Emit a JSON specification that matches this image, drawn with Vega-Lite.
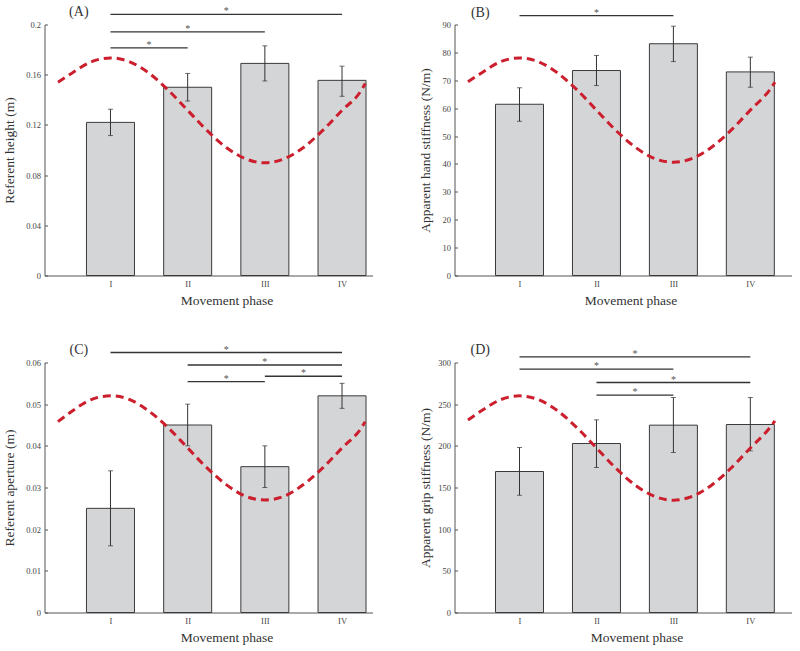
{
  "$schema": "https://vega.github.io/schema/vega-lite/v6.json",
  "padding": {"left": 2.5, "top": 4.5, "right": 5, "bottom": 2},
  "background": "white",
  "datasets": {
    "aBars": [{"x": 1, "m": 0.122, "lo": 0.1115, "hi": 0.1325}, {"x": 2, "m": 0.150, "lo": 0.139, "hi": 0.161}, {"x": 3, "m": 0.169, "lo": 0.155, "hi": 0.183}, {"x": 4, "m": 0.1555, "lo": 0.1428, "hi": 0.1668}],
    "aSig": [{"x": 1, "x2": 4, "y": 0.208, "sx": 2.5}, {"x": 1, "x2": 3, "y": 0.1942, "sx": 2}, {"x": 1, "x2": 2, "y": 0.1814, "sx": 1.5}],
    "aCurve": [{"x": 0.32, "v": 0.154}, {"x": 0.5, "v": 0.1612}, {"x": 0.75, "v": 0.1702}, {"x": 1, "v": 0.1734}, {"x": 1.25, "v": 0.1702}, {"x": 1.5, "v": 0.1612}, {"x": 1.75, "v": 0.1476}, {"x": 2, "v": 0.1316}, {"x": 2.25, "v": 0.1156}, {"x": 2.5, "v": 0.102}, {"x": 2.75, "v": 0.093}, {"x": 3, "v": 0.0898}, {"x": 3.25, "v": 0.093}, {"x": 3.5, "v": 0.102}, {"x": 3.75, "v": 0.1156}, {"x": 4, "v": 0.1316}, {"x": 4.25, "v": 0.1476}, {"x": 4.3, "v": 0.153}],
    "bBars": [{"x": 1, "m": 61.4, "lo": 55.3, "hi": 67.3}, {"x": 2, "m": 73.5, "lo": 68.1, "hi": 78.9}, {"x": 3, "m": 83.1, "lo": 76.7, "hi": 89.4}, {"x": 4, "m": 73.0, "lo": 67.5, "hi": 78.3}],
    "bSig": [{"x": 1, "x2": 3, "y": 93.2, "sx": 2}],
    "bCurve": [{"x": 0.33, "v": 69.5}, {"x": 0.5, "v": 72.5}, {"x": 0.75, "v": 76.6}, {"x": 1, "v": 78.0}, {"x": 1.25, "v": 76.6}, {"x": 1.5, "v": 72.5}, {"x": 1.75, "v": 66.5}, {"x": 2, "v": 59.3}, {"x": 2.25, "v": 52.1}, {"x": 2.5, "v": 46.1}, {"x": 2.75, "v": 42.0}, {"x": 3, "v": 40.6}, {"x": 3.25, "v": 42.0}, {"x": 3.5, "v": 46.1}, {"x": 3.75, "v": 52.1}, {"x": 4, "v": 59.3}, {"x": 4.25, "v": 66.5}, {"x": 4.32, "v": 69.3}],
    "cBars": [{"x": 1, "m": 0.025, "lo": 0.016, "hi": 0.034}, {"x": 2, "m": 0.045, "lo": 0.040, "hi": 0.050}, {"x": 3, "m": 0.035, "lo": 0.030, "hi": 0.040}, {"x": 4, "m": 0.052, "lo": 0.049, "hi": 0.055}],
    "cSig": [{"x": 1, "x2": 4, "y": 0.0624, "sx": 2.5}, {"x": 2, "x2": 4, "y": 0.0594, "sx": 3}, {"x": 3, "x2": 4, "y": 0.0567, "sx": 3.5}, {"x": 2, "x2": 3, "y": 0.0554, "sx": 2.5}],
    "cCurve": [{"x": 0.32, "v": 0.0458}, {"x": 0.5, "v": 0.0483}, {"x": 0.75, "v": 0.0511}, {"x": 1, "v": 0.052}, {"x": 1.25, "v": 0.0511}, {"x": 1.5, "v": 0.0483}, {"x": 1.75, "v": 0.0443}, {"x": 2, "v": 0.0395}, {"x": 2.25, "v": 0.0347}, {"x": 2.5, "v": 0.0307}, {"x": 2.75, "v": 0.0279}, {"x": 3, "v": 0.027}, {"x": 3.25, "v": 0.0279}, {"x": 3.5, "v": 0.0307}, {"x": 3.75, "v": 0.0347}, {"x": 4, "v": 0.0395}, {"x": 4.25, "v": 0.0443}, {"x": 4.3, "v": 0.0458}],
    "dBars": [{"x": 1, "m": 169.2, "lo": 140.8, "hi": 198}, {"x": 2, "m": 202.8, "lo": 174, "hi": 231.2}, {"x": 3, "m": 224.8, "lo": 192, "hi": 258}, {"x": 4, "m": 225.6, "lo": 194, "hi": 258}],
    "dSig": [{"x": 1, "x2": 4, "y": 306.8, "sx": 2.5}, {"x": 1, "x2": 3, "y": 292, "sx": 2}, {"x": 2, "x2": 4, "y": 276, "sx": 3}, {"x": 2, "x2": 3, "y": 260.8, "sx": 2.5}],
    "dCurve": [{"x": 0.33, "v": 231}, {"x": 0.5, "v": 241.7}, {"x": 0.75, "v": 255.2}, {"x": 1, "v": 260}, {"x": 1.25, "v": 255.2}, {"x": 1.5, "v": 241.7}, {"x": 1.75, "v": 221.4}, {"x": 2, "v": 197.4}, {"x": 2.25, "v": 173.4}, {"x": 2.5, "v": 153.1}, {"x": 2.75, "v": 139.6}, {"x": 3, "v": 134.8}, {"x": 3.25, "v": 139.6}, {"x": 3.5, "v": 153.1}, {"x": 3.75, "v": 173.4}, {"x": 4, "v": 197.4}, {"x": 4.25, "v": 221.4}, {"x": 4.32, "v": 230}]
  },
  "vconcat": [
    {
      "spacing": 45,
      "hconcat": [
        {
          "width": 328, "height": 251,
          "layer": [
            {"data": {"name": "aBars"}, "mark": {"type": "bar", "size": 48, "orient": "vertical", "fill": "#d4d5d7", "stroke": "#3a3a3a", "strokeWidth": 1},
             "encoding": {
               "x": {"field": "x", "type": "quantitative", "title": "Movement phase", "scale": {"domain": [0.21, 4.33], "nice": false, "zero": false}, "axis": {"values": [1, 2, 3, 4], "labelExpr": "['I','II','III','IV'][datum.value-1]", "titleX": 182, "titleY": 17.5, "labelOverlap": false}},
               "y": {"field": "m", "type": "quantitative", "title": "Referent height (m)", "scale": {"domain": [0, 0.2], "nice": false}, "axis": {"values": [0, 0.04, 0.08, 0.12, 0.16, 0.2], "format": "~g", "titleX": -28, "labelOverlap": false}}}},
            {"data": {"name": "aBars"}, "mark": {"type": "rule", "color": "#333", "strokeWidth": 1},
             "encoding": {"x": {"field": "x", "type": "quantitative", "title": "Movement phase", "axis": {"values": [1, 2, 3, 4], "labelExpr": "['I','II','III','IV'][datum.value-1]", "titleX": 182, "titleY": 17.5, "labelOverlap": false}}, "y": {"field": "lo", "type": "quantitative", "title": "Referent height (m)", "axis": {"values": [0, 0.04, 0.08, 0.12, 0.16, 0.2], "format": "~g", "titleX": -28, "labelOverlap": false}}, "y2": {"field": "hi"}}},
            {"data": {"name": "aBars"}, "mark": {"type": "tick", "orient": "horizontal", "size": 5, "thickness": 1, "color": "#333"},
             "encoding": {"x": {"field": "x", "type": "quantitative", "title": "Movement phase", "axis": {"values": [1, 2, 3, 4], "labelExpr": "['I','II','III','IV'][datum.value-1]", "titleX": 182, "titleY": 17.5, "labelOverlap": false}}, "y": {"field": "lo", "type": "quantitative", "title": "Referent height (m)", "axis": {"values": [0, 0.04, 0.08, 0.12, 0.16, 0.2], "format": "~g", "titleX": -28, "labelOverlap": false}}}},
            {"data": {"name": "aBars"}, "mark": {"type": "tick", "orient": "horizontal", "size": 5, "thickness": 1, "color": "#333"},
             "encoding": {"x": {"field": "x", "type": "quantitative", "title": "Movement phase", "axis": {"values": [1, 2, 3, 4], "labelExpr": "['I','II','III','IV'][datum.value-1]", "titleX": 182, "titleY": 17.5, "labelOverlap": false}}, "y": {"field": "hi", "type": "quantitative", "title": "Referent height (m)", "axis": {"values": [0, 0.04, 0.08, 0.12, 0.16, 0.2], "format": "~g", "titleX": -28, "labelOverlap": false}}}},
            {"data": {"name": "aCurve"}, "mark": {"type": "line", "color": "#cc1f2d", "strokeWidth": 3, "strokeDash": [8, 5], "interpolate": "monotone"},
             "encoding": {"x": {"field": "x", "type": "quantitative", "title": "Movement phase", "axis": {"values": [1, 2, 3, 4], "labelExpr": "['I','II','III','IV'][datum.value-1]", "titleX": 182, "titleY": 17.5, "labelOverlap": false}}, "y": {"field": "v", "type": "quantitative", "title": "Referent height (m)", "axis": {"values": [0, 0.04, 0.08, 0.12, 0.16, 0.2], "format": "~g", "titleX": -28, "labelOverlap": false}}}},
            {"data": {"name": "aSig"}, "mark": {"type": "rule", "color": "#333", "strokeWidth": 1.3},
             "encoding": {"x": {"field": "x", "type": "quantitative", "title": "Movement phase", "axis": {"values": [1, 2, 3, 4], "labelExpr": "['I','II','III','IV'][datum.value-1]", "titleX": 182, "titleY": 17.5, "labelOverlap": false}}, "x2": {"field": "x2"}, "y": {"field": "y", "type": "quantitative", "title": "Referent height (m)", "axis": {"values": [0, 0.04, 0.08, 0.12, 0.16, 0.2], "format": "~g", "titleX": -28, "labelOverlap": false}}}},
            {"data": {"name": "aSig"}, "mark": {"type": "text", "text": "*", "fontSize": 10, "color": "#555", "baseline": "alphabetic", "align": "center"},
             "encoding": {"x": {"field": "sx", "type": "quantitative", "title": "Movement phase", "axis": {"values": [1, 2, 3, 4], "labelExpr": "['I','II','III','IV'][datum.value-1]", "titleX": 182, "titleY": 17.5, "labelOverlap": false}}, "y": {"field": "y", "type": "quantitative", "title": "Referent height (m)", "axis": {"values": [0, 0.04, 0.08, 0.12, 0.16, 0.2], "format": "~g", "titleX": -28, "labelOverlap": false}}}},
            {"data": {"values": [{"label": "(A)"}]}, "mark": {"type": "text", "fontSize": 14, "color": "#333", "baseline": "middle", "align": "center"},
             "encoding": {"text": {"field": "label"}, "x": {"datum": 0.59, "type": "quantitative", "title": "Movement phase", "axis": {"values": [1, 2, 3, 4], "labelExpr": "['I','II','III','IV'][datum.value-1]", "titleX": 182, "titleY": 17.5, "labelOverlap": false}}, "y": {"datum": 0.2096, "type": "quantitative", "title": "Referent height (m)", "axis": {"values": [0, 0.04, 0.08, 0.12, 0.16, 0.2], "format": "~g", "titleX": -28, "labelOverlap": false}}}}
          ]
        },
        {
          "width": 337, "height": 251,
          "layer": [
            {"data": {"name": "bBars"}, "mark": {"type": "bar", "size": 48, "orient": "vertical", "fill": "#d4d5d7", "stroke": "#3a3a3a", "strokeWidth": 1},
             "encoding": {
               "x": {"field": "x", "type": "quantitative", "title": "Movement phase", "scale": {"domain": [0.22, 4.47], "nice": false, "zero": false}, "axis": {"values": [1, 2, 3, 4], "labelExpr": "['I','II','III','IV'][datum.value-1]", "titleX": 176, "titleY": 17.5, "labelOverlap": false}},
               "y": {"field": "m", "type": "quantitative", "title": "Apparent hand stiffness (N/m)", "scale": {"domain": [0, 90], "nice": false}, "axis": {"values": [0, 10, 20, 30, 40, 50, 60, 70, 80, 90], "titleX": -22.3, "labelOverlap": false}}}},
            {"data": {"name": "bBars"}, "mark": {"type": "rule", "color": "#333", "strokeWidth": 1},
             "encoding": {"x": {"field": "x", "type": "quantitative", "title": "Movement phase", "axis": {"values": [1, 2, 3, 4], "labelExpr": "['I','II','III','IV'][datum.value-1]", "titleX": 176, "titleY": 17.5, "labelOverlap": false}}, "y": {"field": "lo", "type": "quantitative", "title": "Apparent hand stiffness (N/m)", "axis": {"values": [0, 10, 20, 30, 40, 50, 60, 70, 80, 90], "titleX": -22.3, "labelOverlap": false}}, "y2": {"field": "hi"}}},
            {"data": {"name": "bBars"}, "mark": {"type": "tick", "orient": "horizontal", "size": 5, "thickness": 1, "color": "#333"},
             "encoding": {"x": {"field": "x", "type": "quantitative", "title": "Movement phase", "axis": {"values": [1, 2, 3, 4], "labelExpr": "['I','II','III','IV'][datum.value-1]", "titleX": 176, "titleY": 17.5, "labelOverlap": false}}, "y": {"field": "lo", "type": "quantitative", "title": "Apparent hand stiffness (N/m)", "axis": {"values": [0, 10, 20, 30, 40, 50, 60, 70, 80, 90], "titleX": -22.3, "labelOverlap": false}}}},
            {"data": {"name": "bBars"}, "mark": {"type": "tick", "orient": "horizontal", "size": 5, "thickness": 1, "color": "#333"},
             "encoding": {"x": {"field": "x", "type": "quantitative", "title": "Movement phase", "axis": {"values": [1, 2, 3, 4], "labelExpr": "['I','II','III','IV'][datum.value-1]", "titleX": 176, "titleY": 17.5, "labelOverlap": false}}, "y": {"field": "hi", "type": "quantitative", "title": "Apparent hand stiffness (N/m)", "axis": {"values": [0, 10, 20, 30, 40, 50, 60, 70, 80, 90], "titleX": -22.3, "labelOverlap": false}}}},
            {"data": {"name": "bCurve"}, "mark": {"type": "line", "color": "#cc1f2d", "strokeWidth": 3, "strokeDash": [8, 5], "interpolate": "monotone"},
             "encoding": {"x": {"field": "x", "type": "quantitative", "title": "Movement phase", "axis": {"values": [1, 2, 3, 4], "labelExpr": "['I','II','III','IV'][datum.value-1]", "titleX": 176, "titleY": 17.5, "labelOverlap": false}}, "y": {"field": "v", "type": "quantitative", "title": "Apparent hand stiffness (N/m)", "axis": {"values": [0, 10, 20, 30, 40, 50, 60, 70, 80, 90], "titleX": -22.3, "labelOverlap": false}}}},
            {"data": {"name": "bSig"}, "mark": {"type": "rule", "color": "#333", "strokeWidth": 1.3},
             "encoding": {"x": {"field": "x", "type": "quantitative", "title": "Movement phase", "axis": {"values": [1, 2, 3, 4], "labelExpr": "['I','II','III','IV'][datum.value-1]", "titleX": 176, "titleY": 17.5, "labelOverlap": false}}, "x2": {"field": "x2"}, "y": {"field": "y", "type": "quantitative", "title": "Apparent hand stiffness (N/m)", "axis": {"values": [0, 10, 20, 30, 40, 50, 60, 70, 80, 90], "titleX": -22.3, "labelOverlap": false}}}},
            {"data": {"name": "bSig"}, "mark": {"type": "text", "text": "*", "fontSize": 10, "color": "#555", "baseline": "alphabetic", "align": "center"},
             "encoding": {"x": {"field": "sx", "type": "quantitative", "title": "Movement phase", "axis": {"values": [1, 2, 3, 4], "labelExpr": "['I','II','III','IV'][datum.value-1]", "titleX": 176, "titleY": 17.5, "labelOverlap": false}}, "y": {"field": "y", "type": "quantitative", "title": "Apparent hand stiffness (N/m)", "axis": {"values": [0, 10, 20, 30, 40, 50, 60, 70, 80, 90], "titleX": -22.3, "labelOverlap": false}}}},
            {"data": {"values": [{"label": "(B)"}]}, "mark": {"type": "text", "fontSize": 14, "color": "#333", "baseline": "middle", "align": "center"},
             "encoding": {"text": {"field": "label"}, "x": {"datum": 0.49, "type": "quantitative", "title": "Movement phase", "axis": {"values": [1, 2, 3, 4], "labelExpr": "['I','II','III','IV'][datum.value-1]", "titleX": 176, "titleY": 17.5, "labelOverlap": false}}, "y": {"datum": 94.3, "type": "quantitative", "title": "Apparent hand stiffness (N/m)", "axis": {"values": [0, 10, 20, 30, 40, 50, 60, 70, 80, 90], "titleX": -22.3, "labelOverlap": false}}}}
          ]
        }
      ]
    },
    {
      "spacing": 45,
      "hconcat": [
        {
          "width": 328, "height": 250,
          "layer": [
            {"data": {"name": "cBars"}, "mark": {"type": "bar", "size": 48, "orient": "vertical", "fill": "#d4d5d7", "stroke": "#3a3a3a", "strokeWidth": 1},
             "encoding": {
               "x": {"field": "x", "type": "quantitative", "title": "Movement phase", "scale": {"domain": [0.21, 4.33], "nice": false, "zero": false}, "axis": {"values": [1, 2, 3, 4], "labelExpr": "['I','II','III','IV'][datum.value-1]", "titleX": 182, "titleY": 17.5, "labelOverlap": false}},
               "y": {"field": "m", "type": "quantitative", "title": "Referent aperture (m)", "scale": {"domain": [0, 0.06], "nice": false}, "axis": {"values": [0, 0.01, 0.02, 0.03, 0.04, 0.05, 0.06], "format": "~g", "titleX": -28, "labelOverlap": false}}}},
            {"data": {"name": "cBars"}, "mark": {"type": "rule", "color": "#333", "strokeWidth": 1},
             "encoding": {"x": {"field": "x", "type": "quantitative", "title": "Movement phase", "axis": {"values": [1, 2, 3, 4], "labelExpr": "['I','II','III','IV'][datum.value-1]", "titleX": 182, "titleY": 17.5, "labelOverlap": false}}, "y": {"field": "lo", "type": "quantitative", "title": "Referent aperture (m)", "axis": {"values": [0, 0.01, 0.02, 0.03, 0.04, 0.05, 0.06], "format": "~g", "titleX": -28, "labelOverlap": false}}, "y2": {"field": "hi"}}},
            {"data": {"name": "cBars"}, "mark": {"type": "tick", "orient": "horizontal", "size": 5, "thickness": 1, "color": "#333"},
             "encoding": {"x": {"field": "x", "type": "quantitative", "title": "Movement phase", "axis": {"values": [1, 2, 3, 4], "labelExpr": "['I','II','III','IV'][datum.value-1]", "titleX": 182, "titleY": 17.5, "labelOverlap": false}}, "y": {"field": "lo", "type": "quantitative", "title": "Referent aperture (m)", "axis": {"values": [0, 0.01, 0.02, 0.03, 0.04, 0.05, 0.06], "format": "~g", "titleX": -28, "labelOverlap": false}}}},
            {"data": {"name": "cBars"}, "mark": {"type": "tick", "orient": "horizontal", "size": 5, "thickness": 1, "color": "#333"},
             "encoding": {"x": {"field": "x", "type": "quantitative", "title": "Movement phase", "axis": {"values": [1, 2, 3, 4], "labelExpr": "['I','II','III','IV'][datum.value-1]", "titleX": 182, "titleY": 17.5, "labelOverlap": false}}, "y": {"field": "hi", "type": "quantitative", "title": "Referent aperture (m)", "axis": {"values": [0, 0.01, 0.02, 0.03, 0.04, 0.05, 0.06], "format": "~g", "titleX": -28, "labelOverlap": false}}}},
            {"data": {"name": "cCurve"}, "mark": {"type": "line", "color": "#cc1f2d", "strokeWidth": 3, "strokeDash": [8, 5], "interpolate": "monotone"},
             "encoding": {"x": {"field": "x", "type": "quantitative", "title": "Movement phase", "axis": {"values": [1, 2, 3, 4], "labelExpr": "['I','II','III','IV'][datum.value-1]", "titleX": 182, "titleY": 17.5, "labelOverlap": false}}, "y": {"field": "v", "type": "quantitative", "title": "Referent aperture (m)", "axis": {"values": [0, 0.01, 0.02, 0.03, 0.04, 0.05, 0.06], "format": "~g", "titleX": -28, "labelOverlap": false}}}},
            {"data": {"name": "cSig"}, "mark": {"type": "rule", "color": "#333", "strokeWidth": 1.3},
             "encoding": {"x": {"field": "x", "type": "quantitative", "title": "Movement phase", "axis": {"values": [1, 2, 3, 4], "labelExpr": "['I','II','III','IV'][datum.value-1]", "titleX": 182, "titleY": 17.5, "labelOverlap": false}}, "x2": {"field": "x2"}, "y": {"field": "y", "type": "quantitative", "title": "Referent aperture (m)", "axis": {"values": [0, 0.01, 0.02, 0.03, 0.04, 0.05, 0.06], "format": "~g", "titleX": -28, "labelOverlap": false}}}},
            {"data": {"name": "cSig"}, "mark": {"type": "text", "text": "*", "fontSize": 10, "color": "#555", "baseline": "alphabetic", "align": "center"},
             "encoding": {"x": {"field": "sx", "type": "quantitative", "title": "Movement phase", "axis": {"values": [1, 2, 3, 4], "labelExpr": "['I','II','III','IV'][datum.value-1]", "titleX": 182, "titleY": 17.5, "labelOverlap": false}}, "y": {"field": "y", "type": "quantitative", "title": "Referent aperture (m)", "axis": {"values": [0, 0.01, 0.02, 0.03, 0.04, 0.05, 0.06], "format": "~g", "titleX": -28, "labelOverlap": false}}}},
            {"data": {"values": [{"label": "(C)"}]}, "mark": {"type": "text", "fontSize": 14, "color": "#333", "baseline": "middle", "align": "center"},
             "encoding": {"text": {"field": "label"}, "x": {"datum": 0.59, "type": "quantitative", "title": "Movement phase", "axis": {"values": [1, 2, 3, 4], "labelExpr": "['I','II','III','IV'][datum.value-1]", "titleX": 182, "titleY": 17.5, "labelOverlap": false}}, "y": {"datum": 0.06295, "type": "quantitative", "title": "Referent aperture (m)", "axis": {"values": [0, 0.01, 0.02, 0.03, 0.04, 0.05, 0.06], "format": "~g", "titleX": -28, "labelOverlap": false}}}}
          ]
        },
        {
          "width": 337, "height": 250,
          "layer": [
            {"data": {"name": "dBars"}, "mark": {"type": "bar", "size": 48, "orient": "vertical", "fill": "#d4d5d7", "stroke": "#3a3a3a", "strokeWidth": 1},
             "encoding": {
               "x": {"field": "x", "type": "quantitative", "title": "Movement phase", "scale": {"domain": [0.22, 4.47], "nice": false, "zero": false}, "axis": {"values": [1, 2, 3, 4], "labelExpr": "['I','II','III','IV'][datum.value-1]", "titleX": 182, "titleY": 17.5, "labelOverlap": false}},
               "y": {"field": "m", "type": "quantitative", "title": "Apparent grip stiffness (N/m)", "scale": {"domain": [0, 300], "nice": false}, "axis": {"values": [0, 50, 100, 150, 200, 250, 300], "titleX": -22.3, "labelOverlap": false}}}},
            {"data": {"name": "dBars"}, "mark": {"type": "rule", "color": "#333", "strokeWidth": 1},
             "encoding": {"x": {"field": "x", "type": "quantitative", "title": "Movement phase", "axis": {"values": [1, 2, 3, 4], "labelExpr": "['I','II','III','IV'][datum.value-1]", "titleX": 182, "titleY": 17.5, "labelOverlap": false}}, "y": {"field": "lo", "type": "quantitative", "title": "Apparent grip stiffness (N/m)", "axis": {"values": [0, 50, 100, 150, 200, 250, 300], "titleX": -22.3, "labelOverlap": false}}, "y2": {"field": "hi"}}},
            {"data": {"name": "dBars"}, "mark": {"type": "tick", "orient": "horizontal", "size": 5, "thickness": 1, "color": "#333"},
             "encoding": {"x": {"field": "x", "type": "quantitative", "title": "Movement phase", "axis": {"values": [1, 2, 3, 4], "labelExpr": "['I','II','III','IV'][datum.value-1]", "titleX": 182, "titleY": 17.5, "labelOverlap": false}}, "y": {"field": "lo", "type": "quantitative", "title": "Apparent grip stiffness (N/m)", "axis": {"values": [0, 50, 100, 150, 200, 250, 300], "titleX": -22.3, "labelOverlap": false}}}},
            {"data": {"name": "dBars"}, "mark": {"type": "tick", "orient": "horizontal", "size": 5, "thickness": 1, "color": "#333"},
             "encoding": {"x": {"field": "x", "type": "quantitative", "title": "Movement phase", "axis": {"values": [1, 2, 3, 4], "labelExpr": "['I','II','III','IV'][datum.value-1]", "titleX": 182, "titleY": 17.5, "labelOverlap": false}}, "y": {"field": "hi", "type": "quantitative", "title": "Apparent grip stiffness (N/m)", "axis": {"values": [0, 50, 100, 150, 200, 250, 300], "titleX": -22.3, "labelOverlap": false}}}},
            {"data": {"name": "dCurve"}, "mark": {"type": "line", "color": "#cc1f2d", "strokeWidth": 3, "strokeDash": [8, 5], "interpolate": "monotone"},
             "encoding": {"x": {"field": "x", "type": "quantitative", "title": "Movement phase", "axis": {"values": [1, 2, 3, 4], "labelExpr": "['I','II','III','IV'][datum.value-1]", "titleX": 182, "titleY": 17.5, "labelOverlap": false}}, "y": {"field": "v", "type": "quantitative", "title": "Apparent grip stiffness (N/m)", "axis": {"values": [0, 50, 100, 150, 200, 250, 300], "titleX": -22.3, "labelOverlap": false}}}},
            {"data": {"name": "dSig"}, "mark": {"type": "rule", "color": "#333", "strokeWidth": 1.3},
             "encoding": {"x": {"field": "x", "type": "quantitative", "title": "Movement phase", "axis": {"values": [1, 2, 3, 4], "labelExpr": "['I','II','III','IV'][datum.value-1]", "titleX": 182, "titleY": 17.5, "labelOverlap": false}}, "x2": {"field": "x2"}, "y": {"field": "y", "type": "quantitative", "title": "Apparent grip stiffness (N/m)", "axis": {"values": [0, 50, 100, 150, 200, 250, 300], "titleX": -22.3, "labelOverlap": false}}}},
            {"data": {"name": "dSig"}, "mark": {"type": "text", "text": "*", "fontSize": 10, "color": "#555", "baseline": "alphabetic", "align": "center"},
             "encoding": {"x": {"field": "sx", "type": "quantitative", "title": "Movement phase", "axis": {"values": [1, 2, 3, 4], "labelExpr": "['I','II','III','IV'][datum.value-1]", "titleX": 182, "titleY": 17.5, "labelOverlap": false}}, "y": {"field": "y", "type": "quantitative", "title": "Apparent grip stiffness (N/m)", "axis": {"values": [0, 50, 100, 150, 200, 250, 300], "titleX": -22.3, "labelOverlap": false}}}},
            {"data": {"values": [{"label": "(D)"}]}, "mark": {"type": "text", "fontSize": 14, "color": "#333", "baseline": "middle", "align": "center"},
             "encoding": {"text": {"field": "label"}, "x": {"datum": 0.49, "type": "quantitative", "title": "Movement phase", "axis": {"values": [1, 2, 3, 4], "labelExpr": "['I','II','III','IV'][datum.value-1]", "titleX": 182, "titleY": 17.5, "labelOverlap": false}}, "y": {"datum": 314.8, "type": "quantitative", "title": "Apparent grip stiffness (N/m)", "axis": {"values": [0, 50, 100, 150, 200, 250, 300], "titleX": -22.3, "labelOverlap": false}}}}
          ]
        }
      ]
    }
  ],
  "spacing": 36,
  "config": {
    "view": {"stroke": null},
    "font": "Liberation Serif",
    "axis": {
      "grid": false,
      "domainColor": "#555",
      "tickColor": "#555",
      "labelColor": "#444",
      "titleColor": "#333",
      "labelFont": "Liberation Serif",
      "titleFont": "Liberation Serif",
      "labelFontSize": 8.5,
      "titleFontSize": 13.5,
      "titleFontWeight": "normal",
      "tickSize": -3,
      "labelPadding": 7,
      "labelOverlap": false
    }
  }
}
